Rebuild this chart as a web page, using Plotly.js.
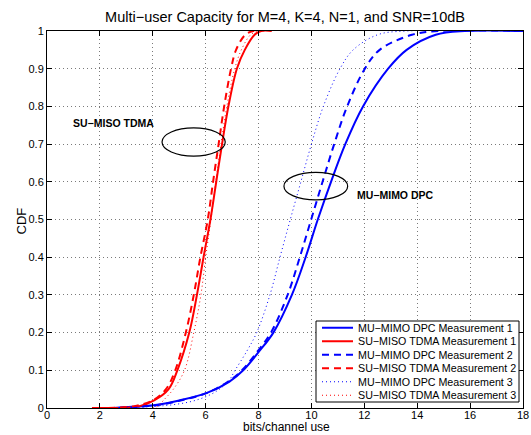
<!DOCTYPE html>
<html>
<head>
<meta charset="utf-8">
<script src="https://cdn.plot.ly/plotly-3.0.1.min.js"></script>
<style>
  html, body { margin: 0; padding: 0; background: #ffffff; }
  #chart { width: 531px; height: 435px; }
</style>
</head>
<body>
<div id="chart"></div>
<script>
// CDF levels at which the capacity samples are listed
const suLevels = [0, 0.005, 0.02, 0.05, 0.1, 0.2, 0.3, 0.4, 0.5, 0.6, 0.7, 0.8, 0.9, 0.95, 0.99, 1, 1];
const muLevels = [0, 0.005, 0.01, 0.02, 0.04, 0.07, 0.1, 0.15, 0.2, 0.3, 0.4, 0.5, 0.6, 0.7, 0.8, 0.9, 0.95, 0.99, 1, 1];

// SU-MISO TDMA capacity (bits/channel use) for the three measurements
const suMeas1 = [1.7, 3.5, 4.05, 4.6, 4.93, 5.38, 5.67, 5.92, 6.18, 6.4, 6.62, 6.86, 7.18, 7.48, 7.85, 8.1, 8.5];
const suMeas2 = [2.3, 3.3, 4.0, 4.5, 4.85, 5.25, 5.55, 5.8, 6.08, 6.28, 6.49, 6.7, 6.96, 7.15, 7.5, 7.8, 8.0];
const suMeas3 = [4.0, 4.2, 4.4, 4.78, 5.2, 5.55, 5.82, 6.0, 6.2, 6.38, 6.58, 6.8, 7.1, 7.35, 7.7, 8.0, 8.2];

// MU-MIMO DPC capacity (bits/channel use) for the three measurements
const muMeas1 = [2.5, 3.7, 4.3, 5.0, 6.05, 6.9, 7.42, 8.02, 8.56, 9.26, 9.78, 10.24, 10.74, 11.28, 11.95, 12.9, 13.6, 14.7, 15.8, 18];
const muMeas2 = [2.7, 3.8, 4.4, 5.05, 6.05, 6.85, 7.37, 7.96, 8.47, 9.1, 9.56, 9.99, 10.42, 10.86, 11.35, 12.02, 12.58, 13.8, 14.8, 18];
const muMeas3 = [3.0, 4.2, 4.9, 5.6, 6.3, 6.85, 7.11, 7.55, 7.93, 8.43, 8.81, 9.2, 9.6, 10.0, 10.45, 11.08, 11.58, 12.5, 13.6, 18];

const seriesNames = [
  "MU\u2212MIMO DPC Measurement 1",
  "SU\u2212MISO TDMA Measurement 1",
  "MU\u2212MIMO DPC Measurement 2",
  "SU\u2212MISO TDMA Measurement 2",
  "MU\u2212MIMO DPC Measurement 3",
  "SU\u2212MISO TDMA Measurement 3"
];

const xTicks = [0, 2, 4, 6, 8, 10, 12, 14, 16, 18];
const yTicks = [0, 0.1, 0.2, 0.3, 0.4, 0.5, 0.6, 0.7, 0.8, 0.9, 1];
const yTickText = ["0", "0.1", "0.2", "0.3", "0.4", "0.5", "0.6", "0.7", "0.8", "0.9", "1"];

const FONT = "Liberation Sans, Arial, Helvetica, sans-serif";
const BLUE = "#0000ff";
const RED = "#ff0000";
const DASH = "7px,5px";
const DOT = "1px,3px";

// line style per series, in legend order
const styles = [
  { color: BLUE, dash: "solid", width: 2 },
  { color: RED, dash: "solid", width: 2 },
  { color: BLUE, dash: DASH, width: 2 },
  { color: RED, dash: DASH, width: 2 },
  { color: BLUE, dash: DOT, width: 1 },
  { color: RED, dash: DOT, width: 1 }
];
const xSeries = [muMeas1, suMeas1, muMeas2, suMeas2, muMeas3, suMeas3];
const ySeries = [muLevels, suLevels, muLevels, suLevels, muLevels, suLevels];

const traces = xSeries.map((x, i) => ({
  type: "scatter", mode: "lines", x: x, y: ySeries[i], name: seriesNames[i],
  line: { color: styles[i].color, width: styles[i].width, dash: styles[i].dash,
          shape: "spline", smoothing: 1 },
  hoverinfo: "skip", showlegend: false
}));

// plot area in pixels
const M = { l: 47, r: 8, t: 31, b: 27 };
const W = 531, H = 435;
const PW = W - M.l - M.r, PH = H - M.t - M.b;
const px = v => (v - M.l) / PW;          // pixel x -> paper x
const py = v => (H - M.b - v) / PH;      // pixel y -> paper y

// compact legend box in the lower right corner
const legendBox = { left: 316, right: 519, top: 321, bottom: 402 };
const rowH = (legendBox.bottom - legendBox.top) / seriesNames.length;
const legendShapes = [{
  type: "rect", xref: "paper", yref: "paper",
  x0: px(legendBox.left), x1: px(legendBox.right),
  y0: py(legendBox.bottom), y1: py(legendBox.top),
  line: { color: "#000", width: 1 }, fillcolor: "#ffffff", layer: "above"
}];
const legendTexts = [];
seriesNames.forEach((name, i) => {
  const yc = legendBox.top + rowH * (i + 0.5);
  legendShapes.push({
    type: "line", xref: "paper", yref: "paper", layer: "above",
    x0: px(legendBox.left + 6), x1: px(legendBox.left + 37),
    y0: py(yc), y1: py(yc),
    line: { color: styles[i].color, width: styles[i].width, dash: styles[i].dash }
  });
  legendTexts.push({
    xref: "paper", yref: "paper", x: px(legendBox.left + 40), y: py(yc),
    xanchor: "left", yanchor: "middle", showarrow: false, text: name,
    font: { family: FONT, size: 10.7, color: "#000" }
  });
});

// axis titles placed below / left of the tick labels
const axisTitles = [
  { xref: "paper", yref: "paper", x: px(286), y: py(435), xanchor: "center", yanchor: "bottom",
    text: "bits/channel use", showarrow: false, borderpad: 0,
    font: { family: FONT, size: 12, color: "#000" } },
  { xref: "paper", yref: "paper", x: px(20.5), y: py(221), xanchor: "center", yanchor: "middle",
    text: "CDF", textangle: -90, showarrow: false, font: { family: FONT, size: 13, color: "#000" } }
];

const axisCommon = {
  showline: true, linecolor: "#000", linewidth: 1, mirror: "ticks",
  ticks: "inside", ticklen: 5, tickwidth: 1, tickcolor: "#000",
  showgrid: true, gridcolor: "#7a7a7a", gridwidth: 1, griddash: "1px,3px",
  zeroline: false,
  tickfont: { family: FONT, size: 11, color: "#000" },
  automargin: false
};

const layout = {
  width: W, height: H,
  paper_bgcolor: "#ffffff", plot_bgcolor: "#ffffff",
  margin: { l: M.l, r: M.r, t: M.t, b: M.b, pad: 0 },
  font: { family: FONT, color: "#000" },
  showlegend: false,
  title: {
    text: "Multi\u2212user Capacity for M=4, K=4, N=1, and SNR=10dB",
    font: { family: FONT, size: 14.5, color: "#000" },
    x: 0.5, xref: "paper", xanchor: "center",
    y: 1 - 17 / H, yref: "container", yanchor: "middle"
  },
  xaxis: Object.assign({}, axisCommon, {
    range: [0, 18], tickmode: "array", tickvals: xTicks,
    ticktext: xTicks.map(String), ticklabelstandoff: -3
  }),
  yaxis: Object.assign({}, axisCommon, {
    range: [0, 1], tickmode: "array", tickvals: yTicks, ticktext: yTickText
  }),
  shapes: [
    { type: "circle", xref: "x", yref: "y", x0: 4.35, x1: 6.74, y0: 0.668, y1: 0.743,
      line: { color: "#000", width: 1.2 } },
    { type: "circle", xref: "x", yref: "y", x0: 8.96, x1: 11.37, y0: 0.552, y1: 0.625,
      line: { color: "#000", width: 1.2 } }
  ].concat(legendShapes),
  annotations: [
    { xref: "x", yref: "y", x: 0.89, y: 0.757, xanchor: "left", yanchor: "middle",
      text: "<b>SU\u2212MISO TDMA</b>", showarrow: false,
      font: { family: FONT, size: 10.5, color: "#000" } },
    { xref: "x", yref: "y", x: 11.64, y: 0.564, xanchor: "left", yanchor: "middle",
      text: "<b>MU\u2212MIMO DPC</b>", showarrow: false,
      font: { family: FONT, size: 10.5, color: "#000" } }
  ].concat(legendTexts, axisTitles)
};

Plotly.newPlot("chart", traces, layout, { staticPlot: true, displayModeBar: false });
</script>
</body>
</html>
